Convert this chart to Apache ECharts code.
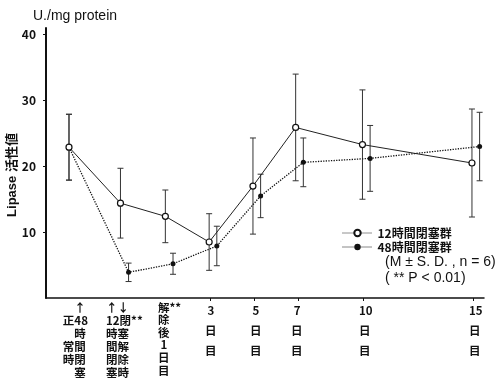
<!DOCTYPE html>
<html>
<head>
<meta charset="utf-8">
<script src="https://cdn.jsdelivr.net/npm/echarts@6/dist/echarts.min.js"></script>
<style>
html,body{margin:0;padding:0;background:#fff;}
#lipasechart{width:496px;height:382px;}
</style>
</head>
<body>
<div id="lipasechart"></div>
<script>
// x positions (days, release = day 1), 12h group sits slightly left of 48h group
var xPos12 = [-3.45, -1.1, 0.95, 2.95, 4.95, 6.9, 9.95, 14.95];
var xPos48 = [-3.45, -0.73, 1.3, 3.3, 5.3, 7.25, 10.3, 15.3];
var mean12 = [22.9, 14.4, 12.4, 8.5, 17.0, 25.9, 23.3, 20.5];
var sd12   = [5.0, 5.3, 4.0, 4.3, 7.3, 8.1, 8.3, 8.2];
var mean48 = [22.9, 3.9, 5.2, 7.9, 15.5, 20.6, 21.2, 23.0];
var sd48   = [5.0, 1.4, 1.6, 3.0, 3.3, 3.7, 5.0, 5.2];

var xLabelPos = [-3.73, -1.76, 0.61, 2.76, 4.81, 6.69, 9.79, 14.81];
var xLabelText = [
    '\u3000↑\n正48\n\u3000時\n常間\n時閉\n\u3000塞',
    '↑↓\n12閉**\n時塞\n間解\n閉除\n塞時',
    '解**\n除\n後\n 1\n日\n目',
    ' 3\n日\n目',
    ' 5\n日\n目',
    ' 7\n日\n目',
    '10\n日\n目',
    '15\n日\n目'
];
var xTickPos = [3, 5, 7, 10, 15];
var yTickPos = [10, 20, 30, 40];
var seriesNames = ['12時間閉塞群', '48時間閉塞群'];

var fontLbl = "'Liberation Sans Narrow','Noto Sans CJK JP',sans-serif";

function pairs(xs, ys) {
    return xs.map(function (x, i) { return [x, ys[i]]; });
}
function bars(xs, ms, ss) {
    return xs.map(function (x, i) { return [x, ms[i] - ss[i], ms[i] + ss[i]]; });
}
function errorBar(params, api) {
    var x = api.value(0);
    var lo = api.coord([x, api.value(1)]);
    var hi = api.coord([x, api.value(2)]);
    var w = 3;
    var st = {stroke: '#333', lineWidth: 1};
    return {
        type: 'group',
        children: [
            {type: 'line', shape: {x1: lo[0], y1: lo[1], x2: hi[0], y2: hi[1]}, style: st},
            {type: 'line', shape: {x1: hi[0] - w, y1: hi[1], x2: hi[0] + w, y2: hi[1]}, style: st},
            {type: 'line', shape: {x1: lo[0] - w, y1: lo[1], x2: lo[0] + w, y2: lo[1]}, style: st}
        ]
    };
}

var chart = echarts.init(document.getElementById('lipasechart'));
var option = {
    animation: false,
    backgroundColor: '#fff',
    title: {
        text: 'U./mg protein',
        left: 28,
        top: 4,
        textStyle: {fontSize: 14, fontWeight: 'normal', color: '#111', fontFamily: 'Liberation Sans'}
    },
    grid: {left: 46, right: 12, top: 28, bottom: 84, containLabel: false, outerBoundsMode: 'none'},
    legend: {
        orient: 'vertical',
        left: 337,
        top: 222,
        itemWidth: 30,
        itemHeight: 8,
        itemGap: 2,
        data: seriesNames,
        lineStyle: {type: 'dotted', width: 1},
        textStyle: {fontSize: 12, fontWeight: 'bold', color: '#111', fontFamily: fontLbl}
    },
    graphic: [
        {type: 'text', left: 385, top: 255,
         style: {text: '(M ± S. D. , n = 6)', fill: '#111', font: '14px "Liberation Sans"'}},
        {type: 'text', left: 385, top: 271,
         style: {text: '( ** P < 0.01)', fill: '#111', font: '14px "Liberation Sans"'}}
    ],
    xAxis: {
        type: 'value',
        min: -4.5,
        max: 15.5,
        splitLine: {show: false},
        axisLine: {lineStyle: {color: '#111', width: 1.5}},
        axisTick: {customValues: xTickPos, length: 3, lineStyle: {color: '#111'}},
        axisLabel: {
            customValues: xLabelPos,
            align: 'left',
            margin: 3,
            formatter: function (value) {
                var i = xLabelPos.indexOf(value);
                if (i < 0) return '';
                var key = i < 2 ? 'n' : (i === 2 ? 'r' : 'd');
                return xLabelText[i].split('\n').map(function (s) {
                    return '{' + key + '|' + s + '}';
                }).join('\n');
            },
            rich: {
                n: {lineHeight: 13, fontSize: 11.5, fontWeight: 'bold', color: '#111', fontFamily: fontLbl},
                r: {lineHeight: 12.6, fontSize: 11.5, fontWeight: 'bold', color: '#111', fontFamily: fontLbl},
                d: {lineHeight: 20, fontSize: 11.5, fontWeight: 'bold', color: '#111', fontFamily: fontLbl}
            }
        }
    },
    yAxis: {
        type: 'value',
        min: 0,
        max: 41,
        name: 'Lipase 活性値',
        nameLocation: 'middle',
        nameRotate: 90,
        nameGap: 27,
        nameMoveOverlap: false,
        nameTextStyle: {
            fontSize: 13, fontWeight: 'bold', color: '#111',
            fontFamily: "'Liberation Sans','Noto Sans CJK JP',sans-serif",
            padding: [0, 24, 0, 0]
        },
        splitLine: {show: false},
        axisLine: {show: true, onZero: false, lineStyle: {color: '#111', width: 2}},
        axisTick: {show: true, customValues: yTickPos, length: 3, lineStyle: {color: '#111'}},
        axisLabel: {
            customValues: yTickPos,
            margin: 10,
            fontSize: 12,
            fontWeight: 'bold',
            color: '#111',
            fontFamily: fontLbl
        }
    },
    series: [
        {
            type: 'custom',
            renderItem: errorBar,
            encode: {x: 0, y: [1, 2]},
            data: bars(xPos12, mean12, sd12),
            silent: true,
            z: 2
        },
        {
            type: 'custom',
            renderItem: errorBar,
            encode: {x: 0, y: [1, 2]},
            data: bars(xPos48, mean48, sd48),
            silent: true,
            z: 2
        },
        {
            name: seriesNames[0],
            type: 'line',
            data: pairs(xPos12, mean12),
            symbol: 'circle',
            symbolSize: 6,
            itemStyle: {color: '#fff', borderColor: '#111', borderWidth: 1.2},
            lineStyle: {color: '#222', width: 1},
            z: 4
        },
        {
            name: seriesNames[1],
            type: 'line',
            data: pairs(xPos48, mean48),
            symbol: 'circle',
            symbolSize: 5,
            itemStyle: {color: '#111'},
            lineStyle: {color: '#111', width: 1.3, type: 'dotted'},
            z: 3
        }
    ]
};
chart.setOption(option);
</script>
</body>
</html>
